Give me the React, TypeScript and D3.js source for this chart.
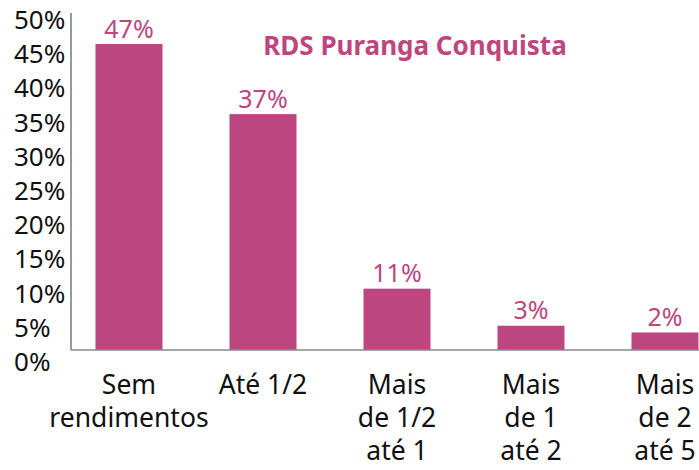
import React from "react";
import * as d3 from "d3";

const categories = ["Sem rendimentos", "Até 1/2", "Mais de 1/2 até 1", "Mais de 1 até 2", "Mais de 2 até 5"];
const categoryLines = [["Sem", "rendimentos"], ["Até 1/2"], ["Mais", "de 1/2", "até 1"], ["Mais", "de 1", "até 2"], ["Mais", "de 2", "até 5"]];
const barValues = [45.4, 35.0, 9.1, 3.6, 2.6];
const valueLabels = ["47%", "37%", "11%", "3%", "2%"];
const yTicks = [0, 5, 10, 15, 20, 25, 30, 35, 40, 45, 50];
const title = "RDS Puranga Conquista";

const W = 699;
const H = 470;
const FONT = "'Noto Sans', 'Open Sans', sans-serif";
const BAR = "#bb4680";
const PINK = "#bd4681";

export default function App() {
  const y = d3.scaleLinear().domain([0, 50]).range([350, 13]);
  const yLabel = d3.scaleLinear().domain([0, 50]).range([371, 29]);
  const x = d3.scaleBand<string>().domain(categories).range([62, 732]).paddingInner(0.5).paddingOuter(0.25);
  const bw = x.bandwidth();

  return (
    <svg width={W} height={H} style={{ position: "absolute", left: 0, top: 0, background: "#fff" }} fontFamily={FONT}>
      {yTicks.map((t) => (
        <text key={t} x={14} y={yLabel(t)} fontSize={26} fill="#111" textAnchor="start">
          {t}%
        </text>
      ))}
      {categories.map((c, i) => (
        <g key={c}>
          <rect x={x(c)} y={y(barValues[i])} width={bw} height={y(0) - y(barValues[i])} fill={BAR} />
          <text x={(x(c) as number) + bw / 2} y={y(barValues[i]) - 6.5} fontSize={25} fill={PINK} textAnchor="middle">
            {valueLabels[i]}
          </text>
          {categoryLines[i].map((ln, j) => (
            <text key={j} x={(x(c) as number) + bw / 2} y={394 + j * 33} fontSize={26.5} fill="#111" textAnchor="middle">
              {ln}
            </text>
          ))}
        </g>
      ))}
      <line x1={71} x2={71} y1={13} y2={y(0)} stroke="#777" strokeWidth={1.5} />
      <line x1={71} x2={W} y1={y(0)} y2={y(0)} stroke="#888" strokeWidth={1.5} />
      <text x={415} y={55} fontSize={26} fontWeight="bold" fill="#c0457f" textAnchor="middle">
        {title}
      </text>
    </svg>
  );
}
